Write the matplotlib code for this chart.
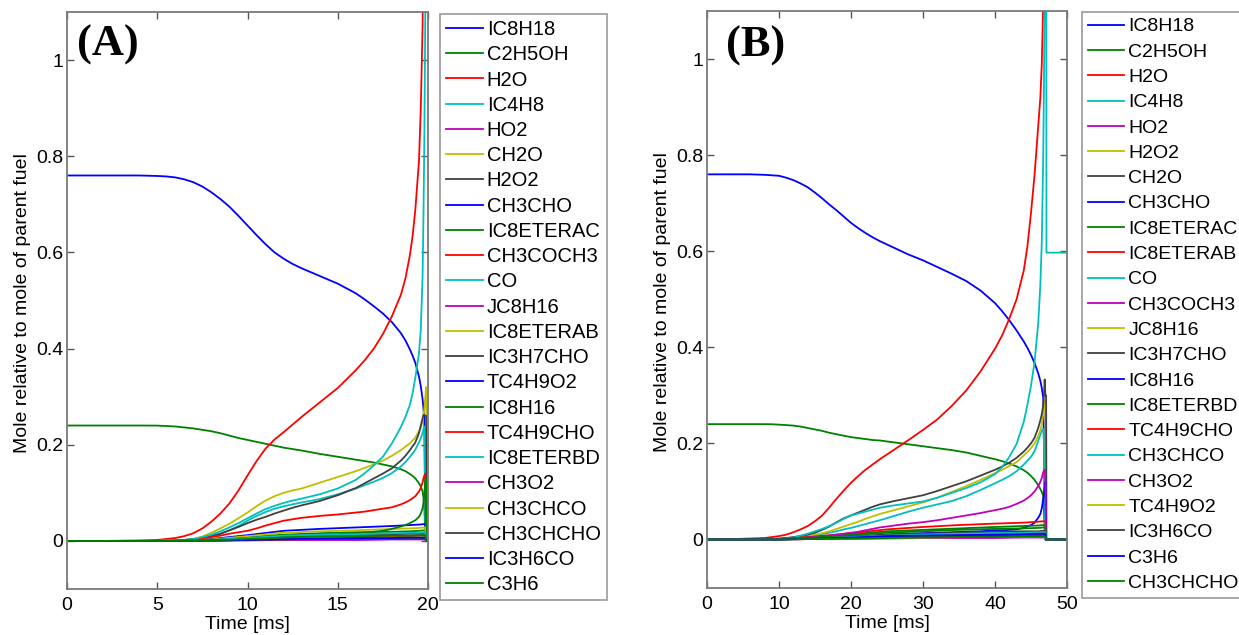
import matplotlib
matplotlib.use("Agg")
import matplotlib.pyplot as plt

# ---------------- Panel A data (time in ms) ----------------
tA = [0, 2, 4, 5, 5.5, 6, 6.5, 7, 7.5, 8,
      8.5, 9, 9.5, 10, 10.5, 11, 11.5, 12, 12.5, 13,
      14, 15, 16, 16.5, 17, 17.5, 18, 18.5, 18.75, 19, 19.15, 19.3,
      19.5, 19.6, 19.7, 19.75, 19.8, 19.85, 19.9, 19.95, 20]
IC8H18_A = [0.76, 0.76, 0.76, 0.759, 0.758, 0.756, 0.752, 0.746, 0.737, 0.725,
            0.711, 0.695, 0.676, 0.656, 0.636, 0.617, 0.6, 0.587, 0.576, 0.567,
            0.551, 0.535, 0.515, 0.502, 0.488, 0.473, 0.455, 0.432, 0.417, 0.398, 0.385, 0.37,
            0.342, 0.322, 0.295, 0.275, 0.25, 0.03, 0.0, 0.0, 0.0]
C2H5OH_A = [0.24, 0.24, 0.24, 0.2398, 0.239, 0.238, 0.236, 0.234, 0.231, 0.228,
            0.224, 0.219, 0.214, 0.21, 0.206, 0.202, 0.198, 0.194, 0.191, 0.188,
            0.181, 0.175, 0.169, 0.166, 0.163, 0.159, 0.155, 0.149, 0.145, 0.139, 0.135, 0.13,
            0.12, 0.113, 0.103, 0.09, 0.065, 0.02, 0.0, 0.0, 0.0]
H2O_A = [0, 0, 0.001, 0.002, 0.004, 0.006, 0.01, 0.016, 0.026, 0.04,
         0.057, 0.078, 0.105, 0.136, 0.166, 0.192, 0.211, 0.226, 0.242, 0.258,
         0.288, 0.318, 0.355, 0.376, 0.4, 0.43, 0.467, 0.512, 0.546, 0.595, 0.635, 0.69,
         0.79, 0.9, 1.07, 1.3, 1.6, 1.8, 1.9, 1.9, 1.9]
IC4H8_A = [0, 0, 0, 0, 0.001, 0.001, 0.002, 0.003, 0.006, 0.01,
           0.015, 0.022, 0.031, 0.042, 0.052, 0.06, 0.067, 0.072, 0.076, 0.08,
           0.087, 0.097, 0.109, 0.116, 0.123, 0.131, 0.141, 0.155, 0.164, 0.175, 0.182, 0.19,
           0.205, 0.213, 0.225, 0.233, 0.238, 0.05, 0.0, 0.0, 0.0]
CH2O_A = [0, 0, 0, 0, 0.001, 0.001, 0.002, 0.004, 0.009, 0.017,
          0.026, 0.036, 0.047, 0.059, 0.072, 0.084, 0.093, 0.1, 0.105, 0.109,
          0.121, 0.133, 0.145, 0.152, 0.159, 0.167, 0.177, 0.189, 0.196, 0.203, 0.209, 0.215,
          0.228, 0.235, 0.25, 0.262, 0.275, 0.3, 0.32, 0.0, 0.0]
H2O2_A = [0, 0, 0, 0, 0.001, 0.001, 0.002, 0.003, 0.006, 0.01,
          0.015, 0.022, 0.029, 0.037, 0.044, 0.05, 0.057, 0.063, 0.069, 0.074,
          0.083, 0.095, 0.11, 0.12, 0.13, 0.14, 0.151, 0.167, 0.177, 0.189, 0.197, 0.205,
          0.224, 0.24, 0.255, 0.262, 0.262, 0.26, 0.26, 0.0, 0.0]
CH3COCH3_A = [0, 0, 0, 0, 0.001, 0.001, 0.002, 0.003, 0.005, 0.008,
              0.011, 0.015, 0.018, 0.021, 0.026, 0.032, 0.037, 0.042, 0.045, 0.048,
              0.052, 0.055, 0.059, 0.061, 0.064, 0.067, 0.07, 0.076, 0.08, 0.085, 0.089, 0.093,
              0.103, 0.11, 0.122, 0.13, 0.136, 0.14, 0.0, 0.0, 0.0]
CO_A = [0, 0, 0, 0, 0.001, 0.001, 0.002, 0.004, 0.008, 0.013,
        0.02, 0.028, 0.037, 0.047, 0.057, 0.066, 0.073, 0.079, 0.084, 0.088,
        0.097, 0.109, 0.127, 0.141, 0.157, 0.175, 0.203, 0.237, 0.258, 0.283, 0.308, 0.34,
        0.39, 0.44, 0.55, 0.68, 0.85, 1.1, 1.4, 1.5, 1.5]
IC8H16_A = [0, 0, 0, 0, 0, 0, 0.001, 0.001, 0.001, 0.002,
            0.002, 0.003, 0.003, 0.004, 0.005, 0.006, 0.007, 0.008, 0.009, 0.01,
            0.012, 0.014, 0.016, 0.017, 0.019, 0.021, 0.025, 0.03, 0.033, 0.037, 0.04, 0.043,
            0.05, 0.057, 0.068, 0.08, 0.1, 0.125, 0.13, 0.0, 0.0]

tA_minor = [0, 6, 8, 10, 12, 14, 16, 18, 19, 19.5, 19.8, 19.85, 19.9, 20]
CH3CHO_A = [0, 0, 0.004, 0.012, 0.021, 0.025, 0.028, 0.031, 0.033, 0.034, 0.035, 0.035, 0, 0]
HO2_A = [0, 0, 0.001, 0.002, 0.004, 0.004, 0.005, 0.005, 0.006, 0.006, 0.006, 0.006, 0, 0]
IC8ETERAC_A = [0, 0, 0.002, 0.008, 0.013, 0.016, 0.018, 0.019, 0.02, 0.021, 0.022, 0.022, 0, 0]
JC8H16_A = [0, 0, 0.001, 0.004, 0.007, 0.009, 0.01, 0.011, 0.011, 0.012, 0.012, 0.012, 0, 0]
IC8ETERAB_A = [0, 0, 0.003, 0.01, 0.017, 0.02, 0.022, 0.025, 0.026, 0.027, 0.028, 0.028, 0, 0]
IC3H7CHO_A = [0, 0, 0.002, 0.006, 0.01, 0.012, 0.013, 0.014, 0.015, 0.016, 0.016, 0.016, 0, 0]
TC4H9O2_A = [0, 0, 0.001, 0.002, 0.003, 0.003, 0.003, 0.004, 0.004, 0.004, 0.004, 0.004, 0, 0]
TC4H9CHO_A = [0, 0, 0.001, 0.004, 0.006, 0.007, 0.008, 0.009, 0.009, 0.01, 0.01, 0.01, 0, 0]
IC8ETERBD_A = [0, 0, 0.002, 0.006, 0.011, 0.013, 0.014, 0.016, 0.017, 0.017, 0.018, 0.018, 0, 0]
CH3O2_A = [0, 0, 0, 0.001, 0.002, 0.002, 0.002, 0.003, 0.003, 0.003, 0.003, 0.003, 0, 0]
CH3CHCO_A = [0, 0, 0.001, 0.003, 0.005, 0.006, 0.006, 0.007, 0.007, 0.008, 0.008, 0.008, 0, 0]
CH3CHCHO_A = [0, 0, 0.001, 0.002, 0.003, 0.004, 0.004, 0.004, 0.005, 0.005, 0.005, 0.005, 0, 0]
IC3H6CO_A = [0, 0, 0.001, 0.002, 0.004, 0.005, 0.006, 0.006, 0.007, 0.007, 0.007, 0.007, 0, 0]
C3H6_A = [0, 0, 0.001, 0.004, 0.007, 0.009, 0.01, 0.011, 0.011, 0.012, 0.012, 0.012, 0, 0]

labels_A = ["IC8H18", "C2H5OH", "H2O", "IC4H8", "HO2", "CH2O", "H2O2", "CH3CHO",
            "IC8ETERAC", "CH3COCH3", "CO", "JC8H16", "IC8ETERAB", "IC3H7CHO",
            "TC4H9O2", "IC8H16", "TC4H9CHO", "IC8ETERBD", "CH3O2", "CH3CHCO",
            "CH3CHCHO", "IC3H6CO", "C3H6"]

# ---------------- Panel B data (time in ms) ----------------
tB = [0, 4, 6, 8, 9, 10, 11, 12, 13, 14,
      15, 16, 17, 18, 19, 20, 21, 22, 23, 24,
      26, 28, 30, 32, 34, 36, 38, 40, 41, 42,
      43, 44, 44.5, 45, 45.5, 46, 46.3, 46.5, 46.7, 46.8,
      46.9, 47.0, 47.1, 47.15, 47.2, 50]
IC8H18_B = [0.76, 0.76, 0.76, 0.759, 0.758, 0.757, 0.753, 0.748, 0.741, 0.733,
            0.722, 0.71, 0.697, 0.685, 0.672, 0.659, 0.648, 0.638, 0.629, 0.621,
            0.607, 0.593, 0.581, 0.567, 0.553, 0.538, 0.518, 0.492, 0.475, 0.456,
            0.435, 0.412, 0.399, 0.384, 0.367, 0.346, 0.33, 0.315, 0.295, 0.2,
            0.05, 0, 0, 0, 0, 0]
C2H5OH_B = [0.24, 0.24, 0.24, 0.24, 0.2398, 0.239, 0.238, 0.237, 0.235, 0.232,
            0.229, 0.226, 0.222, 0.219, 0.216, 0.213, 0.211, 0.209, 0.207, 0.206,
            0.202, 0.198, 0.194, 0.19, 0.186, 0.181, 0.174, 0.167, 0.163, 0.158,
            0.152, 0.144, 0.139, 0.132, 0.124, 0.113, 0.105, 0.099, 0.09, 0.06,
            0.02, 0, 0, 0, 0, 0]
H2O_B = [0, 0.001, 0.002, 0.003, 0.005, 0.007, 0.01, 0.015, 0.021, 0.028,
         0.038, 0.05, 0.067, 0.085, 0.102, 0.118, 0.132, 0.145, 0.156, 0.167,
         0.187, 0.207, 0.228, 0.25, 0.278, 0.31, 0.35, 0.397, 0.425, 0.46,
         0.5, 0.56, 0.61, 0.68, 0.76, 0.86, 0.92, 0.99, 1.12, 1.4,
         1.6, 1.8, 1.9, 1.9, 1.9, 1.9]
IC4H8_B = [0, 0, 0, 0, 0, 0.001, 0.002, 0.003, 0.004, 0.006,
           0.008, 0.011, 0.014, 0.017, 0.021, 0.024, 0.028, 0.032, 0.036, 0.04,
           0.049, 0.058, 0.066, 0.073, 0.08, 0.09, 0.103, 0.117, 0.124, 0.132,
           0.142, 0.156, 0.164, 0.172, 0.184, 0.205, 0.218, 0.227, 0.23, 0.2,
           0.05, 0, 0, 0, 0, 0]
H2O2_B = [0, 0, 0, 0, 0.001, 0.001, 0.002, 0.003, 0.005, 0.007,
          0.01, 0.013, 0.017, 0.022, 0.027, 0.032, 0.037, 0.043, 0.048, 0.053,
          0.061, 0.069, 0.077, 0.087, 0.099, 0.111, 0.124, 0.138, 0.145, 0.153,
          0.161, 0.175, 0.182, 0.19, 0.2, 0.215, 0.227, 0.24, 0.26, 0.28,
          0.29, 0.29, 0, 0, 0, 0]
CH2O_B = [0, 0, 0, 0.001, 0.001, 0.002, 0.003, 0.005, 0.007, 0.01,
          0.014, 0.02, 0.027, 0.036, 0.044, 0.05, 0.056, 0.062, 0.068, 0.073,
          0.08, 0.086, 0.092, 0.101, 0.111, 0.121, 0.133, 0.145, 0.152, 0.16,
          0.17, 0.183, 0.191, 0.2, 0.212, 0.232, 0.248, 0.261, 0.28, 0.3,
          0.333, 0.3, 0.3, 0, 0, 0]
CH3CHO_B = [0, 0, 0, 0, 0, 0, 0.001, 0.001, 0.002, 0.002,
            0.003, 0.003, 0.004, 0.005, 0.005, 0.006, 0.007, 0.008, 0.008, 0.009,
            0.011, 0.012, 0.013, 0.014, 0.015, 0.016, 0.017, 0.019, 0.019, 0.02,
            0.021, 0.024, 0.027, 0.03, 0.035, 0.045, 0.053, 0.065, 0.085, 0.095,
            0.11, 0.12, 0, 0, 0, 0]
CO_B = [0, 0, 0, 0, 0.001, 0.001, 0.002, 0.004, 0.008, 0.012,
        0.017, 0.022, 0.028, 0.035, 0.043, 0.05, 0.054, 0.058, 0.062, 0.066,
        0.071, 0.075, 0.079, 0.087, 0.097, 0.107, 0.119, 0.136, 0.151, 0.172,
        0.199, 0.245, 0.28, 0.32, 0.37, 0.45, 0.53, 0.62, 0.8, 0.95,
        1.15, 1.5, 1.5, 0.597, 0.597, 0.597]
CH3COCH3_B = [0, 0, 0, 0, 0, 0.001, 0.001, 0.002, 0.003, 0.004,
              0.005, 0.007, 0.008, 0.01, 0.012, 0.014, 0.016, 0.019, 0.022, 0.025,
              0.029, 0.033, 0.036, 0.04, 0.045, 0.05, 0.055, 0.061, 0.064, 0.068,
              0.074, 0.081, 0.086, 0.092, 0.1, 0.111, 0.12, 0.128, 0.14, 0.143,
              0.145, 0.12, 0, 0, 0, 0]

tB_minor = [0, 10, 15, 20, 25, 30, 35, 40, 44, 46, 46.8, 47.0, 47.1, 50]
HO2_B = [0, 0, 0.001, 0.003, 0.004, 0.005, 0.006, 0.007, 0.007, 0.008, 0.008, 0.008, 0, 0]
IC8ETERAC_B = [0, 0.001, 0.005, 0.011, 0.017, 0.02, 0.023, 0.026, 0.028, 0.029, 0.03, 0.03, 0, 0]
IC8ETERAB_B = [0, 0.001, 0.006, 0.013, 0.021, 0.026, 0.03, 0.033, 0.035, 0.037, 0.038, 0.038, 0, 0]
JC8H16_B = [0, 0, 0.002, 0.005, 0.008, 0.01, 0.012, 0.013, 0.014, 0.015, 0.015, 0.015, 0, 0]
IC3H7CHO_B = [0, 0.001, 0.003, 0.006, 0.01, 0.012, 0.014, 0.016, 0.017, 0.017, 0.018, 0.018, 0, 0]
IC8H16_B = [0, 0, 0.002, 0.004, 0.006, 0.007, 0.008, 0.009, 0.009, 0.01, 0.01, 0.01, 0, 0]
IC8ETERBD_B = [0, 0.001, 0.004, 0.009, 0.014, 0.017, 0.02, 0.022, 0.023, 0.024, 0.025, 0.025, 0, 0]
TC4H9CHO_B = [0, 0, 0.002, 0.004, 0.007, 0.008, 0.009, 0.01, 0.011, 0.012, 0.012, 0.012, 0, 0]
CH3CHCO_B = [0, 0, 0.002, 0.005, 0.008, 0.01, 0.012, 0.013, 0.014, 0.015, 0.015, 0.015, 0, 0]
CH3O2_B = [0, 0, 0.001, 0.001, 0.002, 0.003, 0.003, 0.003, 0.004, 0.004, 0.004, 0.004, 0, 0]
TC4H9O2_B = [0, 0, 0.001, 0.002, 0.003, 0.004, 0.005, 0.005, 0.006, 0.006, 0.006, 0.006, 0, 0]
IC3H6CO_B = [0, 0, 0.001, 0.003, 0.004, 0.005, 0.006, 0.007, 0.007, 0.008, 0.008, 0.008, 0, 0]
C3H6_B = [0, 0, 0.002, 0.004, 0.007, 0.008, 0.009, 0.01, 0.011, 0.012, 0.012, 0.012, 0, 0]
CH3CHCHO_B = [0, 0, 0.001, 0.002, 0.003, 0.004, 0.005, 0.005, 0.006, 0.006, 0.006, 0.006, 0, 0]

labels_B = ["IC8H18", "C2H5OH", "H2O", "IC4H8", "HO2", "H2O2", "CH2O", "CH3CHO",
            "IC8ETERAC", "IC8ETERAB", "CO", "CH3COCH3", "JC8H16", "IC3H7CHO",
            "IC8H16", "IC8ETERBD", "TC4H9CHO", "CH3CHCO", "CH3O2", "TC4H9O2",
            "IC3H6CO", "C3H6", "CH3CHCHO"]

yticks = [0, 0.2, 0.4, 0.6, 0.8, 1.0]
ytick_labels = ["0", "0.2", "0.4", "0.6", "0.8", "1"]
xticks_A = [0, 5, 10, 15, 20]
xticks_B = [0, 10, 20, 30, 40, 50]

# ---------------- assemble ----------------
series_A = [(tA, IC8H18_A), (tA, C2H5OH_A), (tA, H2O_A), (tA, IC4H8_A), (tA_minor, HO2_A),
            (tA, CH2O_A), (tA, H2O2_A), (tA_minor, CH3CHO_A), (tA_minor, IC8ETERAC_A),
            (tA, CH3COCH3_A), (tA, CO_A), (tA_minor, JC8H16_A), (tA_minor, IC8ETERAB_A),
            (tA_minor, IC3H7CHO_A), (tA_minor, TC4H9O2_A), (tA, IC8H16_A),
            (tA_minor, TC4H9CHO_A), (tA_minor, IC8ETERBD_A), (tA_minor, CH3O2_A),
            (tA_minor, CH3CHCO_A), (tA_minor, CH3CHCHO_A), (tA_minor, IC3H6CO_A),
            (tA_minor, C3H6_A)]
series_B = [(tB, IC8H18_B), (tB, C2H5OH_B), (tB, H2O_B), (tB, IC4H8_B), (tB_minor, HO2_B),
            (tB, H2O2_B), (tB, CH2O_B), (tB, CH3CHO_B), (tB_minor, IC8ETERAC_B),
            (tB_minor, IC8ETERAB_B), (tB, CO_B), (tB, CH3COCH3_B), (tB_minor, JC8H16_B),
            (tB_minor, IC3H7CHO_B), (tB_minor, IC8H16_B), (tB_minor, IC8ETERBD_B),
            (tB_minor, TC4H9CHO_B), (tB_minor, CH3CHCO_B), (tB_minor, CH3O2_B),
            (tB_minor, TC4H9O2_B), (tB_minor, IC3H6CO_B), (tB_minor, C3H6_B),
            (tB_minor, CH3CHCHO_B)]

colors = ["#0000ff", "#008000", "#ff0000", "#00bfbf", "#bf00bf", "#bfbf00", "#404040"]

plt.rcParams['font.family'] = ['Liberation Sans', 'DejaVu Sans']

W, H = 1239, 635
fig = plt.figure(figsize=(W / 100, H / 100), dpi=100)


def px_axes(l, t, r, b):
    return [l / W, (H - b) / H, (r - l) / W, (b - t) / H]


def make_panel(rect, series, labels, xticks, xmax, tag, tagx, tagy, leg_xy,
               leg_fs, leg_space, leg_hl):
    ax = fig.add_axes(rect)
    for i, ((t, y), lab) in enumerate(zip(series, labels)):
        ax.plot(t, y, color=colors[i % 7], lw=1.3, label=lab)
    ax.set_xlim(0, xmax)
    ax.set_ylim(-0.1, 1.1)
    ax.set_xticks(xticks)
    ax.set_xticklabels([str(v) for v in xticks])
    ax.set_yticks(yticks)
    ax.set_yticklabels(ytick_labels)
    ax.tick_params(direction='in', top=True, right=True, length=5, width=1.0,
                   color='#555555', labelsize=14)
    ax.tick_params(axis='y', pad=2.7)
    ax.tick_params(axis='x', pad=6)
    for s in ax.spines.values():
        s.set_color('#7a7a7a')
        s.set_linewidth(1.3)
    ax.set_xlabel('Time [ms]', fontsize=14)
    ax.set_ylabel('Mole relative to mole of parent fuel', fontsize=14)
    ax.xaxis.set_label_coords(0.5, -0.047)
    ax.yaxis.set_label_coords(-0.099, 0.495)
    ax.text(tagx, tagy, tag, transform=ax.transAxes, ha='center', va='center',
            fontsize=32, fontweight='bold', family='Liberation Serif')
    leg = ax.legend(loc='upper left', bbox_to_anchor=(leg_xy[0] / W, 1 - leg_xy[1] / H),
                    bbox_transform=fig.transFigure, fontsize=leg_fs, frameon=True,
                    fancybox=False, edgecolor='#808080', handlelength=leg_hl,
                    handletextpad=0.2, labelspacing=leg_space, borderpad=0.3,
                    borderaxespad=0)
    leg.get_frame().set_linewidth(1.2)
    return ax


make_panel(px_axes(67, 12, 428, 589), series_A, labels_A, xticks_A, 20, '(A)', 0.114, 0.943,
           (440, 14), 14.5, 0.31, 1.82)
make_panel(px_axes(707, 11, 1067, 587.5), series_B, labels_B, xticks_B, 50, '(B)', 0.135, 0.94,
           (1081.7, 12), 14, 0.395, 1.9)

fig.savefig('out.png', dpi=100)
